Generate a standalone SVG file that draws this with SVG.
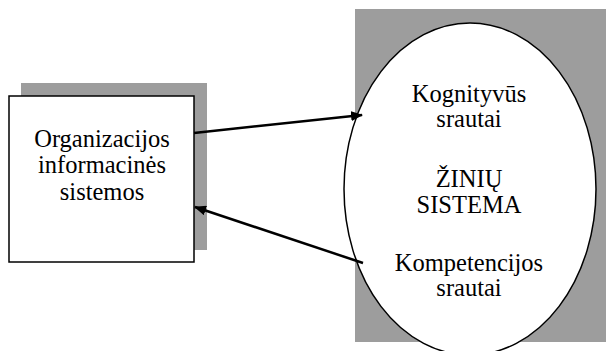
<svg xmlns="http://www.w3.org/2000/svg" width="606" height="351" viewBox="0 0 606 351">
  <style>
    .shadow { fill: #9d9d9d; stroke: none; }
    .shape { fill: #ffffff; stroke: #000000; stroke-width: 1.5; }
    .label { font-family: "Liberation Serif", "Times New Roman", serif; font-size: 24.5px; fill: #000000; text-anchor: middle; }
    .link { stroke: #000000; stroke-width: 2.5; fill: none; marker-end: url(#head); }
  </style>
  <defs>
    <marker id="head" viewBox="0 0 12 10" refX="11" refY="5" markerWidth="12" markerHeight="10" markerUnits="userSpaceOnUse" orient="auto">
      <path d="M0,0 L12,5 L0,10 Z" fill="#000000"/>
    </marker>
  </defs>
  <rect width="606" height="351" fill="#ffffff"/>

  <g id="org-systems">
    <rect class="shadow" x="21" y="83" width="186" height="167"/>
    <rect class="shape" x="9" y="96" width="185" height="166"/>
    <text class="label" x="102" y="147">Organizacijos</text>
    <text class="label" x="102" y="173">informacinės</text>
    <text class="label" x="102" y="200">sistemos</text>
  </g>

  <g id="knowledge-system">
    <rect class="shadow" x="355" y="9" width="251" height="333"/>
    <ellipse class="shape" cx="470" cy="189" rx="126" ry="166"/>
    <text class="label" x="469" y="102">Kognityvūs</text>
    <text class="label" x="469" y="127">srautai</text>
    <text class="label" x="469" y="187">ŽINIŲ</text>
    <text class="label" x="469" y="213">SISTEMA</text>
    <text class="label" x="469" y="271">Kompetencijos</text>
    <text class="label" x="469" y="296">srautai</text>
  </g>

  <g id="connectors">
    <line class="link" x1="194" y1="133" x2="362" y2="115"/>
    <line class="link" x1="363" y1="263" x2="195" y2="207"/>
  </g>
</svg>
